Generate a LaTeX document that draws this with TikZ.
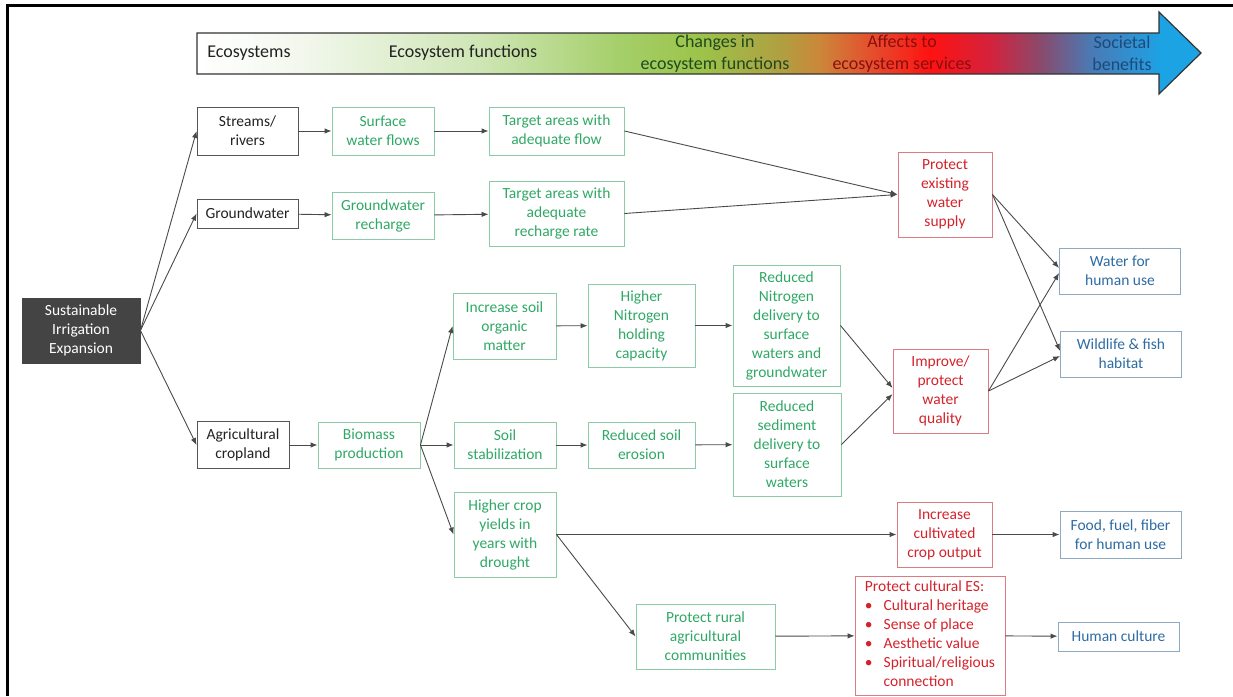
\documentclass[tikz,border=0pt]{standalone}
\usepackage{fontspec}
\setmainfont{Carlito}
\usetikzlibrary{arrows.meta}
\definecolor{grntxt}{HTML}{2FA865}
\definecolor{grnline}{HTML}{8CCBA8}
\definecolor{redtxt}{HTML}{D3222B}
\definecolor{redline}{HTML}{DA7C80}
\definecolor{bluetxt}{HTML}{2D6BA3}
\definecolor{blueline}{HTML}{8EA9C2}
\definecolor{blktxt}{HTML}{222222}
\definecolor{blkline}{HTML}{555555}
\definecolor{darkfill}{HTML}{444444}
\definecolor{conn}{HTML}{4A4A4A}
\definecolor{hA}{HTML}{F3F8EE}
\definecolor{hB}{HTML}{CFE6B6}
\definecolor{hC}{HTML}{A5CF6A}
\definecolor{hD}{HTML}{9CC44A}
\definecolor{hE}{HTML}{AFA042}
\definecolor{hF}{HTML}{CB873A}
\definecolor{hG}{HTML}{E4502E}
\definecolor{hH}{HTML}{FF1212}
\definecolor{hI}{HTML}{D4223C}
\definecolor{hJ}{HTML}{8A4A6C}
\definecolor{hK}{HTML}{4A7AB4}
\definecolor{hL}{HTML}{2A96D8}
\definecolor{hM}{HTML}{1CA3E4}
\definecolor{hdrgreen}{HTML}{1F4A1F}
\definecolor{hdrred}{HTML}{8A0E0E}
\definecolor{hdrblue}{HTML}{1E4A7A}
\pgfdeclarehorizontalshading{hdrshade}{100bp}{color(0bp)=(white); color(25bp)=(white); color(30bp)=(hA); color(39bp)=(hB); color(46bp)=(hC); color(50bp)=(hD); color(54bp)=(hE); color(56bp)=(hF); color(58.5bp)=(hG); color(61.5bp)=(hH); color(64.5bp)=(hI); color(67bp)=(hJ); color(69.5bp)=(hK); color(72bp)=(hL); color(73bp)=(hM); color(75bp)=(hM); color(100bp)=(hM)}
\newcommand\boxfont{\fontsize{15.5}{19}\selectfont}
\newcommand\hdrfont{\fontsize{18}{22}\selectfont}
\tikzset{
  basebox/.style={draw, rectangle, align=center, inner sep=1pt, font=\boxfont, line width=0.9pt},
  blkbox/.style={basebox, draw=blkline, text=blktxt},
  grnbox/.style={basebox, draw=grnline, text=grntxt},
  redbox/.style={basebox, draw=redline, text=redtxt},
  bluebox/.style={basebox, draw=blueline, text=bluetxt},
  darkbox/.style={basebox, draw=darkfill, fill=darkfill, text=white},
  hdrtext/.style={font=\hdrfont, align=center, inner sep=0pt},
  conn/.style={draw=conn, line width=0.9pt, -{Latex[length=7pt,width=5.5pt]}},
  sz/.style 2 args={minimum width=#1pt, minimum height=#2pt}
}
\begin{document}
\begin{tikzpicture}[x=1pt,y=-1pt]
\useasboundingbox (0,0) rectangle (1233,696);
% frame (top and left edges)
\draw[line width=3pt, black] (1233,5) -- (7,5) -- (7,696);
% header arrow
\shadedraw[shading=hdrshade, draw=black!80, line width=1.2pt]
  (197,33) -- (1159,33) -- (1159,12) -- (1201,53) -- (1159,94) -- (1159,74) -- (197,74) -- cycle;
\node[hdrtext, text=blktxt] (h1) at (249,53) {Ecosystems};
\node[hdrtext, text=blktxt] (h2) at (463,53) {Ecosystem functions};
\node[hdrtext, text=hdrgreen] (h3) at (715,54) {Changes in\\ecosystem functions};
\node[hdrtext, text=hdrred] (h4) at (902,54) {Affects to\\ecosystem services};
\node[hdrtext, text=hdrblue] (h5) at (1122,53) {Societal\\benefits};

% nodes
\node[darkbox, sz={118}{65}] (sie) at (81,330.5) {Sustainable\\Irrigation\\Expansion};
\node[blkbox, sz={101}{48}] (streams) at (247.5,131) {Streams/\\rivers};
\node[grnbox, sz={102}{48}] (surf) at (383,131) {Surface\\water flows};
\node[grnbox, sz={135}{48}] (tflow) at (556.5,131) {Target areas with\\adequate flow};
\node[blkbox, sz={101}{29}] (ground) at (247.5,213.5) {Groundwater};
\node[grnbox, sz={102}{47}] (gwr) at (383,215.5) {Groundwater\\recharge};
\node[grnbox, sz={135}{65}] (trech) at (556.5,213.5) {Target areas with\\adequate\\recharge rate};
\node[redbox, sz={94}{85}] (pws) at (945,194.5) {Protect\\existing\\water\\supply};
\node[bluebox, sz={121}{46}] (whu) at (1120,271) {Water for\\human use};
\node[bluebox, sz={121}{46}] (wild) at (1121,354) {Wildlife \& fish\\habitat};
\node[redbox, sz={95}{84}] (iwq) at (940.5,391) {Improve/\\protect\\water\\quality};
\node[grnbox, sz={103}{66}] (som) at (504.5,326) {Increase soil\\organic\\matter};
\node[grnbox, sz={107}{83}] (hnh) at (641.5,325.5) {Higher\\Nitrogen\\holding\\capacity};
\node[grnbox, sz={107}{121}] (rnd) at (786.5,325.5) {Reduced\\Nitrogen\\delivery to\\surface\\waters and\\groundwater};
\node[grnbox, sz={108}{103}] (rsd) at (787,444.5) {Reduced\\sediment\\delivery to\\surface\\waters};
\node[grnbox, sz={107}{46}] (rse) at (641.5,445) {Reduced soil\\erosion};
\node[grnbox, sz={102}{46}] (sst) at (505,445) {Soil\\stabilization};
\node[grnbox, sz={102}{46}] (bio) at (369,445) {Biomass\\production};
\node[blkbox, sz={92}{47}] (agri) at (243,445) {Agricultural\\cropland};
\node[grnbox, sz={102}{85}] (hcy) at (505,534.5) {Higher crop\\yields in\\years with\\drought};
\node[redbox, sz={95}{65}] (icc) at (944.5,534.5) {Increase\\cultivated\\crop output};
\node[bluebox, sz={121}{47}] (food) at (1120.5,534.5) {Food, fuel, fiber\\for human use};
\node[grnbox, sz={139}{65}] (rural) at (705.5,636.5) {Protect rural\\agricultural\\communities};
\node[redbox, sz={150}{119}, align=left, inner sep=0pt] (ces) at (930,635.5) {%
  \begin{tabular}{@{}l@{\hspace{11pt}}l@{}}
  \multicolumn{2}{@{}l}{Protect cultural ES:}\\
  \textbullet & Cultural heritage\\
  \textbullet & Sense of place\\
  \textbullet & Aesthetic value\\
  \textbullet & Spiritual/religious\\
   & connection
  \end{tabular}};
\node[bluebox, sz={121}{29}] (hum) at (1118.5,636.5) {Human culture};

% connectors
\draw[conn] (sie.east) -- (streams.west);
\draw[conn] (sie.east) -- (ground.west);
\draw[conn] (sie.east) -- (agri.west);
\draw[conn] (streams) -- (surf);
\draw[conn] (surf) -- (tflow);
\draw[conn] (ground) -- (gwr);
\draw[conn] (gwr) -- (trech);
\draw[conn] (tflow.east) -- (pws.west);
\draw[conn] (trech.east) -- (pws.west);
\draw[conn] (pws.east) -- ([yshift=3pt]whu.west);
\draw[conn] (pws.east) -- ([yshift=3pt]wild.west);
\draw[conn] (iwq.east) -- ([yshift=-2pt]whu.west);
\draw[conn] (iwq.east) -- ([yshift=-2pt]wild.west);
\draw[conn] (agri) -- (bio);
\draw[conn] (bio.east) -- (som.west);
\draw[conn] (bio.east) -- (sst.west);
\draw[conn] (bio.east) -- (hcy.west);
\draw[conn] (som) -- (hnh);
\draw[conn] (hnh) -- (rnd);
\draw[conn] (sst) -- (rse);
\draw[conn] (rse) -- (rsd);
\draw[conn] (rnd.east) -- ([yshift=3pt]iwq.west);
\draw[conn] (rsd.east) -- ([yshift=-3pt]iwq.west);
\draw[conn] (hcy.east) -- (icc.west);
\draw[conn] (hcy.east) -- (rural.west);
\draw[conn] (icc) -- (food);
\draw[conn] (rural) -- (ces);
\draw[conn] (ces) -- (hum);
\end{tikzpicture}
\end{document}
